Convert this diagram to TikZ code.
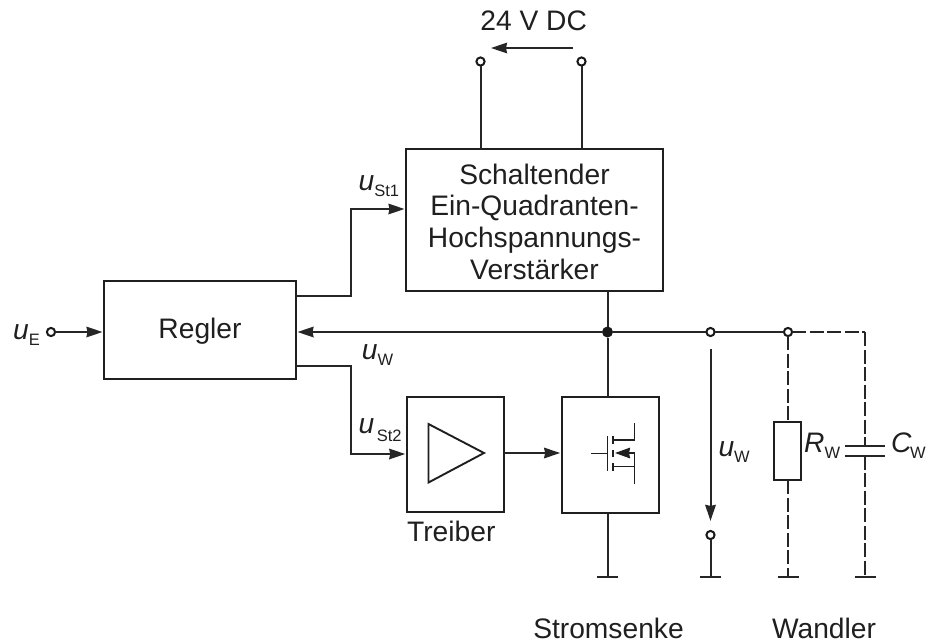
\documentclass[tikz,border=0pt]{standalone}
\usepackage{fontspec}
\setmainfont{Liberation Sans}
\usetikzlibrary{arrows.meta}
\newcommand{\mainsize}{\fontsize{28.2}{31.7}\selectfont}
\newcommand{\usub}[3][-5.7pt]{{\itshape #2}\raisebox{#1}{\fontsize{16.5}{16.5}\selectfont #3}}
\tikzset{
  x=1pt,y=-1pt,
  every node/.style={text=black!88},
  head/.style={-{Stealth[inset=1pt,length=16pt,width=10.5pt]}},
  wire/.style={line width=2pt,color=black!85},
  dashwire/.style={wire,dash pattern=on 14pt off 3.5pt},
  thinwire/.style={line width=1.9pt,color=black!88},
  sig/.style={wire,head,shorten >=1.5pt},
  box/.style={draw=black!88,line width=2pt,rectangle,inner sep=0pt,outer sep=0pt,align=center,font=\mainsize},
  term/.style={circle,draw=black!90,fill=white,line width=2pt,minimum size=8.2pt,inner sep=0pt,outer sep=0pt},
  dot/.style={circle,fill=black!90,minimum size=11pt,inner sep=0pt,outer sep=0pt},
  lbl/.style={anchor=base west,inner sep=0pt,font=\mainsize},
  ctr/.style={anchor=base,inner sep=0pt,font=\mainsize},
  gnd/.style={wire}
}
\begin{document}
\begin{tikzpicture}
\useasboundingbox (0,0) rectangle (927,643);
% boxes
\node[box,minimum width=257pt,minimum height=142pt] (amp) at (534.5,220) {\rule{0pt}{23.6pt}Schaltender\\Ein-Quadranten-\\Hochspannungs-\\Verstärker};
\node[box,minimum width=192pt,minimum height=98pt,text height=20pt,text depth=2.4pt] (reg) at (200,329.5) {Regler};
\node[box,minimum width=97.5pt,minimum height=115.5pt] (drv) at (455.5,454.7) {};
\node[box,minimum width=97.5pt,minimum height=116pt] (snk) at (610.4,455) {};
% supply
\node[term] (t1) at (480.5,61.5) {};
\node[term] (t2) at (581.5,61.5) {};
\coordinate (a1) at (480.5,149);
\coordinate (a2) at (581.5,149);
\draw[wire] (t1) -- (a1);
\draw[wire] (t2) -- (a2);
\coordinate (v1) at (573,48);
\coordinate (v2) at (491,48);
\draw[sig,shorten >=0pt] (v1) -- (v2);
\node[ctr] (vdc) at (533.7,30.7) {24 V DC};
% input
\node[term] (te) at (51,332) {};
\draw[sig] (te) -- (te -| reg.west);
\node[lbl] (lE) at (13,339.3) {\usub{u}{E}};
% regler outputs
\coordinate (o1) at (296,296);
\coordinate (o1a) at (351,296);
\coordinate (o1b) at (351,209);
\draw[sig] (o1) -- (o1a) -- (o1b) -- (o1b -| amp.west);
\coordinate (o2) at (296,366);
\coordinate (o2a) at (351,366);
\coordinate (o2b) at (351,454);
\draw[sig] (o2) -- (o2a) -- (o2b) -- (o2b -| drv.west);
\node[lbl] (l1) at (358.5,190.5) {\usub{u}{St1}};
\node[lbl] (l2) at (358.5,433) {\usub[-8.5pt]{u}{\kern2.5pt St2}};
\node[lbl] (l3) at (361.7,359.3) {\usub{u}{W}};
% bus
\node[dot] (j) at (607.5,332) {};
\node[term] (t3) at (710.5,332) {};
\node[term] (t4) at (788,332) {};
\coordinate (cr) at (865,332);
\draw[sig] (j) -- (j -| reg.east);
\draw[wire] (j) -- (t3);
\draw[wire] (t3) -- (t4);
\draw[wire] (j) -- (j |- amp.south);
\draw[wire] (j) -- (j |- snk.north);
\draw[dashwire] (t4) -- (cr);
\draw[dashwire] (cr) -- (cr |- 0,445.5);
% driver
\coordinate (tr1) at (428.5,424);
\coordinate (tr2) at (428.5,482.5);
\coordinate (tr3) at (484,453);
\draw[thinwire,line join=miter] (tr1) -- (tr3) -- (tr2) -- cycle;
\coordinate (s0) at (504,453);
\draw[sig] (s0) -- (s0 -| snk.west);
\node[ctr] (ltr) at (451.3,541.7) {Treiber};
% mosfet
\coordinate (g0) at (591,453.5);
\coordinate (g1) at (607.5,453.5);
\draw[thinwire] (g0) -- (g1);
\coordinate (gt) at (607.5,436);
\coordinate (gb) at (607.5,471);
\draw[thinwire] (gt) -- (gb);
\coordinate (c1) at (613,436);
\coordinate (c2) at (613,444);
\coordinate (c3) at (613,450);
\coordinate (c4) at (613,457);
\coordinate (c5) at (613,463);
\coordinate (c6) at (613,471);
\draw[thinwire] (c1) -- (c2);
\draw[thinwire] (c3) -- (c4);
\draw[thinwire] (c5) -- (c6);
\coordinate (d1) at (613,440);
\coordinate (d2) at (634.5,440);
\coordinate (d3) at (634.5,423);
\draw[thinwire] (d1) -- (d2) -- (d3);
\coordinate (m1) at (634.5,453);
\coordinate (m2) at (634.5,483.5);
\draw[thinwire] (m1) -- (m2);
\coordinate (m3) at (613,466.5);
\coordinate (m4) at (634.5,466.5);
\draw[thinwire] (m3) -- (m4);
\coordinate (m5) at (615,453);
\draw[thinwire,-{Stealth[inset=1pt,length=15pt,width=10.5pt]}] (m1) -- (m5);
% grounds
\coordinate (e1) at (607.5,577);
\coordinate (e2) at (710.5,577);
\coordinate (e3) at (788,577);
\coordinate (e4) at (865,577);
\foreach \n in {e1,e2,e3,e4}{\draw[gnd] ([xshift=-10.5pt]\n) -- ([xshift=10.5pt]\n);}
\draw[wire] (e1 |- snk.south) -- (e1);
% uW arrow
\coordinate (u1) at (710.5,349);
\node[term] (t5) at (710.5,535) {};
\draw[sig,shorten >=10pt] (u1) -- (t5);
\draw[wire] (t5) -- (e2);
\node[lbl] (l4) at (718.3,456.7) {\usub{u}{W}};
% resistor
\node[box,minimum width=26.5pt,minimum height=58.5pt] (r) at (787.5,451) {};
\draw[dashwire] (t4) -- (t4 |- r.north);
\draw[dashwire] (t4 |- r.south) -- (e3);
\node[lbl] (l5) at (804,452.7) {\usub{R}{W}};
% capacitor
\coordinate (k1) at (865,445.5);
\coordinate (k2) at (865,455.5);
\draw[wire] ([xshift=-20pt]k1) -- ([xshift=20pt]k1);
\draw[wire] ([xshift=-20pt]k2) -- ([xshift=20pt]k2);
\draw[dashwire] (k2) -- (e4);
\node[lbl] (l6) at (891,452.7) {\usub{C}{\kern-1.5pt W}};
% captions
\node[ctr] (ls) at (608.5,638) {Stromsenke};
\node[ctr] (lw) at (824,638) {Wandler};
\end{tikzpicture}
\end{document}
